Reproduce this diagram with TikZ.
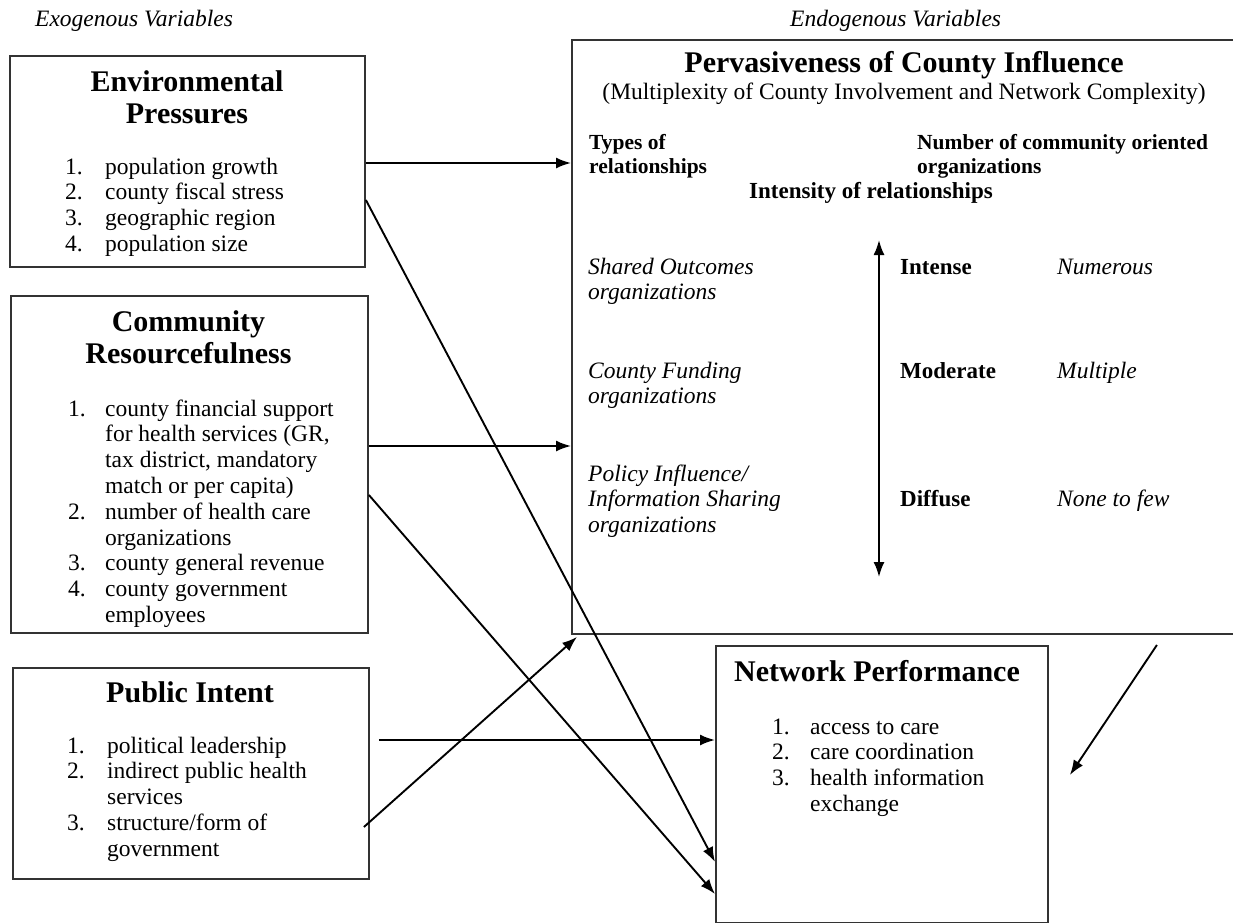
\documentclass[tikz,border=0pt]{standalone}
\usepackage{fontspec}
\setmainfont{Liberation Serif}
\usetikzlibrary{arrows.meta}
\usetikzlibrary{positioning}

\newcommand{\bodyfont}{\fontsize{23.5}{25.8}\selectfont}
\newcommand{\headfont}{\fontsize{30}{32}\selectfont\bfseries}
\newcommand{\numlist}[2]{\begin{tabular}[t]{@{}p{#1}@{}l@{}}#2\end{tabular}}
\newcommand{\stk}[1]{\begin{tabular}[t]{@{}l@{}}#1\end{tabular}}
\newcommand{\stc}[1]{\begin{tabular}[t]{@{}c@{}}#1\end{tabular}}

\begin{document}
\begin{tikzpicture}[x=1pt, y=-1pt, >={Latex[length=15pt,width=11pt]},
    box/.style={draw=black!80, line width=1.9pt, anchor=north west, inner sep=0pt},
    head/.style={font=\headfont, anchor=base, inner sep=0pt},
    lst/.style={font=\bodyfont, anchor=base west, inner sep=0pt},
    lbl/.style={font=\bodyfont\itshape, anchor=base west, inner sep=0pt},
    hdr/.style={font=\fontsize{21.5}{24}\selectfont\bfseries, anchor=base west, inner sep=0pt},
    lvl/.style={font=\fontsize{23}{25.8}\selectfont\bfseries, anchor=base west, inner sep=0pt},
    link/.style={line width=1.9pt, ->}]
    \useasboundingbox (0,0) rectangle (1233,922);

    \node[lbl] (exo) at (35,26) {Exogenous Variables};
    \node[lbl] (endo) at (790,26) {Endogenous Variables};

    \node[box, minimum width=355, minimum height=211] (env) at (9,55) {};
    \node[head] (envt) at (187,91) {\stc{Environmental\\Pressures}};
    \node[lst] (envl) at (65,174) {\numlist{40pt}{1. & population growth\\
        2. & county fiscal stress\\
        3. & geographic region\\
        4. & population size}};

    \node[box, minimum width=357, minimum height=337] (comm) at (10,295) {};
    \node[head] (commt) at (188.5,331) {\stc{Community\\Resourcefulness}};
    \node[lst] (comml) at (68,416) {\numlist{37pt}{1. & county financial support\\
        & for health services (GR,\\
        & tax district, mandatory\\
        & match or per capita)\\
        2. & number of health care\\
        & organizations\\
        3. & county general revenue\\
        4. & county government\\
        & employees}};

    \node[box, minimum width=356, minimum height=211] (pub) at (12,667) {};
    \node[head] (pubt) at (190,702) {Public Intent};
    \node[lst] (publ) at (67,753) {\numlist{40pt}{1. & political leadership\\
        2. & indirect public health\\
        & services\\
        3. & structure/form of\\
        & government}};

    \node[box, minimum width=665, minimum height=594] (perv) at (571,39) {};
    \node[head] (pervt) at (904,72) {Pervasiveness of County Influence};
    \node[font=\bodyfont, anchor=base, inner sep=0pt] (pervs) at (904,99)
        {(Multiplexity of County Involvement and Network Complexity)};
    \node[hdr] (types) at (589,149) {\stk{Types of\\relationships}};
    \node[hdr] (number) at (917,149) {\stk{Number of community oriented\\organizations}};
    \node[lvl, anchor=base] (intens) at (871,198) {Intensity of relationships};
    \node[lbl] (shared) at (588,274) {\stk{Shared Outcomes\\organizations}};
    \node[lbl] (fund) at (588,378) {\stk{County Funding\\organizations}};
    \node[lbl] (policy) at (588,481) {\stk{Policy Influence/\\Information Sharing\\organizations}};
    \node[lvl] (intense) at (900,274) {Intense};
    \node[lvl] (moderate) at (900,378) {Moderate};
    \node[lvl] (diffuse) at (900,506) {Diffuse};
    \node[lbl] (numerous) at (1057,274) {Numerous};
    \node[lbl] (multiple) at (1057,378) {Multiple};
    \node[lbl] (few) at (1057,506) {None to few};

    \node[box, minimum width=332, minimum height=277] (net) at (715,645) {};
    \node[head] (nett) at (877,681) {Network Performance};
    \node[lst] (netl) at (772,734) {\numlist{38pt}{1. & access to care\\
        2. & care coordination\\
        3. & health information\\
        & exchange}};

    \coordinate (scaletop) at ([xshift=308, yshift=-201]perv.north west);
    \coordinate (scalebot) at ([xshift=308, yshift=-538]perv.north west);
    \draw[line width=1.9pt, <->] (scaletop) -- (scalebot);

    \draw[link] ([yshift=-108]env.north east) -- ([yshift=-124]perv.north west);
    \draw[link] ([yshift=-145]env.north east) -- ([yshift=-217]net.north west);
    \draw[link] ([yshift=-151]comm.north east) -- ([yshift=-407]perv.north west);
    \draw[link] ([yshift=-200]comm.north east) -- ([yshift=-249]net.north west);
    \draw[link] ([xshift=9, yshift=-73]pub.north east) -- ([yshift=-95]net.north west);
    \draw[link] ([xshift=-6, yshift=-160]pub.north east) -- ([xshift=6, yshift=-2]perv.south west);

    \coordinate (fbstart) at ([xshift=108]net.north east);
    \coordinate (fbend) at ([xshift=21, yshift=-130]net.north east);
    \draw[link] (fbstart) -- (fbend);
\end{tikzpicture}
\end{document}
